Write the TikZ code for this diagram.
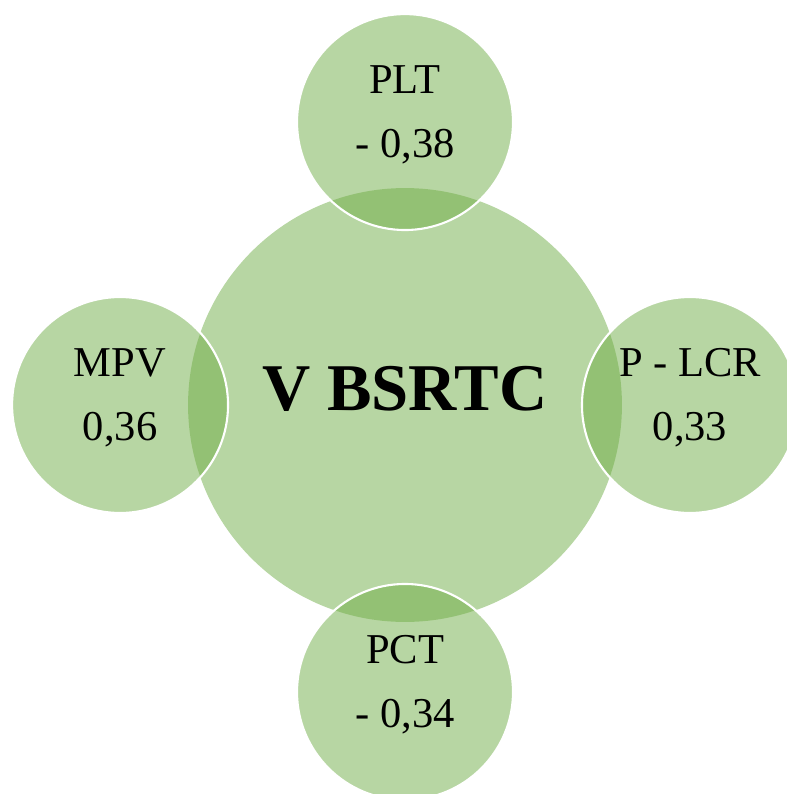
\documentclass[tikz,border=0pt]{standalone}
\usepackage{fontspec}
\setmainfont{Liberation Serif}
\usetikzlibrary{positioning}

\definecolor{leafgreen}{HTML}{70AD47}

\tikzset{
  hub/.style={circle, fill=leafgreen, fill opacity=0.5, text opacity=1,
    minimum size=8.68cm, inner sep=0pt, align=center, text depth=0.68cm,
    font=\fontsize{38}{44}\selectfont\bfseries},
  sat/.style={circle, fill=leafgreen, fill opacity=0.5, text opacity=1,
    draw=white, draw opacity=1, line width=1.2pt,
    minimum size=4.32cm, inner sep=0pt, align=center, on grid,
    text depth=0.42cm,
    font=\fontsize{24.2}{36}\selectfont},
}

\begin{document}
\begin{tikzpicture}[x=0.02cm, y=0.02cm]
  \useasboundingbox (0,0) rectangle (787,-794);
  \clip (0,0) rectangle (787,-794);

  % central index
  \node[hub] (vb) at (405,-405) {V BSRTC};

  % correlated parameters
  \node[sat, above=5.66cm of vb] (plt) {PLT\\- 0,38};
  \node[sat, left=5.7cm of vb] (mpv) {MPV\\0,36};
  \node[sat, right=5.7cm of vb] (plcr) {P - LCR\\0,33};
  \node[sat, below=5.74cm of vb] (pct) {PCT\\- 0,34};
\end{tikzpicture}
\end{document}
